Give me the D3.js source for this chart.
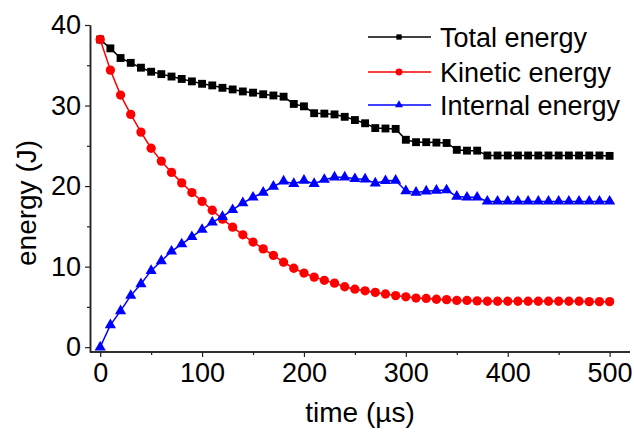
<!DOCTYPE html>
<html><head><meta charset="utf-8">
<script src="https://cdn.jsdelivr.net/npm/d3@7"></script>
<style>body{margin:0;background:#fff}svg{display:block}text{font-family:"Liberation Sans",Arial,sans-serif;fill:#000}</style>
</head><body>
<svg id="c" width="634" height="439"></svg>
<script>
const times = d3.range(0, 501, 10);
const totalEnergy = [38.2,37.1,35.9,35.3,34.7,34.2,33.9,33.6,33.3,33.0,32.7,32.5,32.2,32.0,31.75,31.6,31.4,31.25,31.1,30.2,29.9,29.05,29.0,28.9,28.6,28.2,27.8,27.2,27.15,27.1,25.75,25.45,25.45,25.4,25.35,24.5,24.4,24.4,23.8,23.8,23.8,23.8,23.8,23.8,23.8,23.8,23.8,23.8,23.8,23.8,23.75];
const kineticEnergy = [38.2,34.4,31.3,28.9,26.7,24.7,23.1,21.7,20.4,19.2,18.1,17.0,15.9,14.9,13.95,13.05,12.2,11.4,10.55,9.8,9.2,8.7,8.3,7.95,7.5,7.2,7.0,6.8,6.6,6.4,6.25,6.1,6.05,5.95,5.9,5.8,5.8,5.75,5.7,5.7,5.7,5.7,5.7,5.7,5.7,5.7,5.7,5.7,5.65,5.65,5.65];
const internalEnergy = [0,2.75,4.5,6.4,7.85,9.5,10.7,11.9,12.8,13.7,14.6,15.5,16.2,17.05,17.9,18.6,19.2,19.95,20.6,20.3,20.7,20.3,20.8,21.1,21.1,20.9,20.85,20.35,20.65,20.7,19.4,19.2,19.35,19.45,19.5,18.7,18.6,18.6,18.1,18.1,18.1,18.1,18.1,18.1,18.1,18.1,18.1,18.1,18.1,18.1,18.1];
const seriesNames = ["Total energy","Kinetic energy","Internal energy"];
const seriesColors = ["#000000","#ff0000","#0000ff"];
const xTicks = [0,100,200,300,400,500];
const xMinor = [50,150,250,350,450];
const yTicks = [0,10,20,30,40];
const yMinor = [5,15,25,35];

const svg = d3.select("#c");
const x = d3.scaleLinear().domain([-10, 520]).range([90, 630]);
const y = d3.scaleLinear().domain([-0.6, 40]).range([352, 25]);

const series = [totalEnergy, kineticEnergy, internalEnergy];
const symbols = [d3.symbol().type(d3.symbolSquare).size(62),
                 d3.symbol().type(d3.symbolCircle).size(68),
                 d3.symbol().type(d3.symbolTriangle).size(54)];
const legSymbols = [d3.symbol().type(d3.symbolSquare).size(28),
                 d3.symbol().type(d3.symbolCircle).size(36),
                 d3.symbol().type(d3.symbolTriangle).size(28)];

const line = d3.line().x((d,i)=>x(times[i])).y(d=>y(d));
series.forEach((s,k)=>{
  svg.append("path").datum(s).attr("d", line).attr("fill","none")
     .attr("stroke", seriesColors[k]).attr("stroke-width",1.5);
  svg.append("g").selectAll("path").data(s).join("path")
     .attr("transform",(d,i)=>`translate(${x(times[i])},${y(d)})`)
     .attr("d", symbols[k]()).attr("fill", seriesColors[k]);
});

// axes
const gx = svg.append("g").attr("transform","translate(0,352)");
gx.call(d3.axisBottom(x).tickValues(xTicks).tickSize(5).tickSizeOuter(0).tickPadding(6));
gx.append("g").call(d3.axisBottom(x).tickValues(xMinor).tickSize(3).tickSizeOuter(0).tickFormat(""));
const gy = svg.append("g").attr("transform","translate(90,0)");
gy.call(d3.axisLeft(y).tickValues(yTicks).tickSize(5).tickSizeOuter(0).tickPadding(4));
gy.append("g").call(d3.axisLeft(y).tickValues(yMinor).tickSize(3).tickSizeOuter(0).tickFormat(""));
svg.selectAll(".domain").attr("stroke","#222").attr("stroke-width",1.5);
svg.selectAll(".tick line").attr("stroke","#222").attr("stroke-width",1.2);
svg.selectAll(".tick text").attr("font-size",27).attr("font-family","Liberation Sans, Arial, sans-serif").attr("fill","#000");
gx.selectAll(".domain").attr("d","M90,0H630");

// titles
svg.append("text").attr("x",360).attr("y",422).attr("text-anchor","middle").attr("font-size",28).text("time (µs)");
svg.append("text").attr("transform","translate(36,203) rotate(-90)").attr("text-anchor","middle").attr("font-size",28).text("energy (J)");

// legend
const legY = [37, 72, 105];
seriesNames.forEach((n,k)=>{
  const g = svg.append("g");
  g.append("line").attr("x1",368).attr("x2",431).attr("y1",legY[k]).attr("y2",legY[k]).attr("stroke",seriesColors[k]).attr("stroke-width",1.5);
  g.append("path").attr("transform",`translate(399,${legY[k]})`).attr("d",legSymbols[k]()).attr("fill",seriesColors[k]);
  g.append("text").attr("x",440).attr("y",legY[k]+9.8).attr("font-size",27).text(n);
});
</script>
</body></html>
